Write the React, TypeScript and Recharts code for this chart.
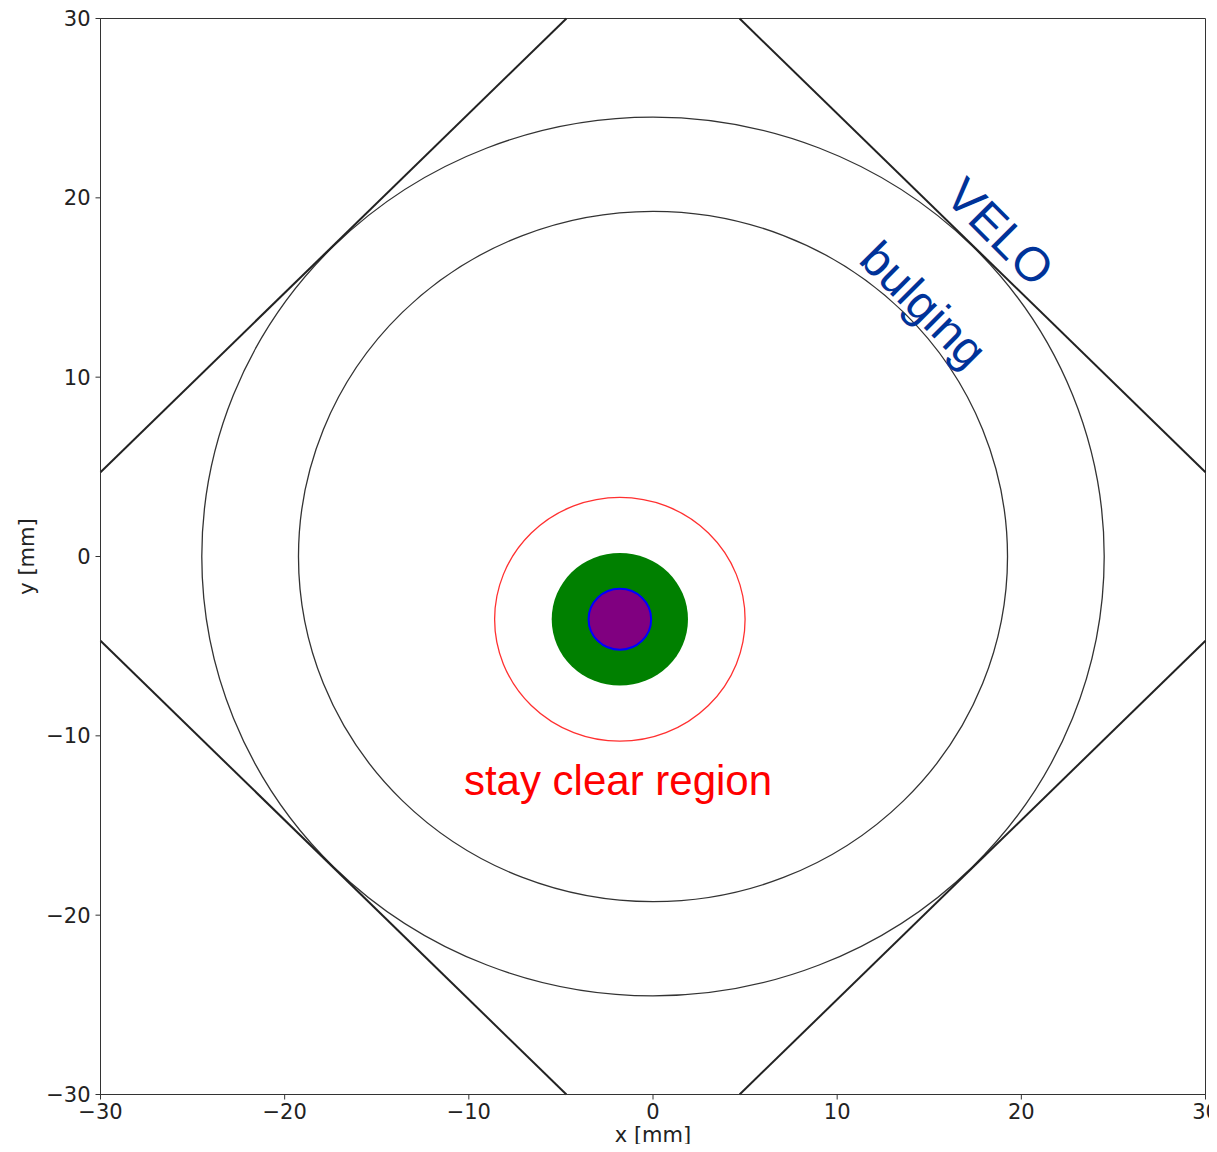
import React from "react";
import {
  ComposedChart,
  XAxis,
  YAxis,
  ReferenceArea,
  ReferenceLine,
  ReferenceDot,
} from "recharts";

// ---- data ----
const X_TICKS = [-30, -20, -10, 0, 10, 20, 30];
const Y_TICKS = [-30, -20, -10, 0, 10, 20, 30];
const X_DOMAIN: [number, number] = [-30, 30];
const Y_DOMAIN: [number, number] = [-30, 30];

// VELO boundary (diamond |x|+|y| = 34.7), clipped to the plot window
const DIAMOND_SEGMENTS = [
  [{ x: -30, y: 4.7 }, { x: -4.7, y: 30 }],
  [{ x: 4.7, y: 30 }, { x: 30, y: 4.7 }],
  [{ x: -30, y: -4.7 }, { x: -4.7, y: -30 }],
  [{ x: 4.7, y: -30 }, { x: 30, y: -4.7 }],
];

// circles: centre (cx, cy) and radius r in mm
const CIRCLE_NAMES = ["outer", "inner", "stayClear", "beam", "core"];
const CIRCLE_CX = [0, 0, -1.8, -1.8, -1.8];
const CIRCLE_CY = [0, 0, -3.5, -3.5, -3.5];
const CIRCLE_R = [24.5, 19.25, 6.8, 3.7, 1.7];

const ANNOT_TEXT = ["VELO", "bulging", "stay clear region"];
const ANNOT_X = [18.84, 14.7, -1.9];
const ANNOT_Y = [18.1, 14.05, -13.3];

// ---- styles ----
const CIRCLE_STYLE: Record<string, { stroke: string; fill: string; sw: number }> = {
  outer: { stroke: "#333333", fill: "none", sw: 1.3 },
  inner: { stroke: "#333333", fill: "none", sw: 1.3 },
  stayClear: { stroke: "#ff3030", fill: "none", sw: 1.3 },
  beam: { stroke: "none", fill: "#008000", sw: 0 },
  core: { stroke: "#0000ff", fill: "#800080", sw: 2 },
};
const ANNOT_STYLE = [
  { angle: 45, color: "#003399", size: 48, baseline: "central" },
  { angle: 45, color: "#003399", size: 48, baseline: "central" },
  { angle: 0, color: "#ff0000", size: 42, baseline: "alphabetic" },
];

const fmt = (v: number) => (v < 0 ? "\u2212" + Math.abs(v) : String(v));
const FONT = "DejaVu Sans";

const XTick = (p: any) => (
  <text
    x={p.x}
    y={p.y}
    dy="0.76em"
    textAnchor="middle"
    fontFamily={FONT}
    fontSize={21}
    fill="#222"
  >
    {fmt(p.payload.value)}
  </text>
);
const YTick = (p: any) => (
  <text
    x={p.x}
    y={p.y}
    dy="0.36em"
    textAnchor="end"
    fontFamily={FONT}
    fontSize={21}
    fill="#222"
  >
    {fmt(p.payload.value)}
  </text>
);

export default function App() {
  return (
    <div style={{ width: 1201, height: 1136 }}>
      <style>{`html, body { overflow: hidden; } .recharts-surface { overflow: visible; } .recharts-wrapper { overflow: visible; }`}</style>
      <ComposedChart
        width={1201}
        height={1136}
        margin={{ top: 10.5, right: 3.5, bottom: 0, left: 0.5 }}
      >
        <XAxis
          type="number"
          dataKey="x"
          domain={X_DOMAIN}
          ticks={X_TICKS}
          allowDataOverflow
          interval={0}
          tick={XTick}
          tickSize={5}
          tickMargin={4}
          stroke="#333"
          height={49.5}
          label={{
            value: "x [mm]",
            position: "insideBottom",
            offset: 2,
            style: { fontFamily: FONT, fontSize: 21, fill: "#222" },
          }}
        />
        <YAxis
          type="number"
          dataKey="y"
          domain={Y_DOMAIN}
          ticks={Y_TICKS}
          allowDataOverflow
          interval={0}
          tick={YTick}
          tickSize={5}
          tickMargin={5}
          stroke="#333"
          width={92}
          label={{
            value: "y [mm]",
            angle: -90,
            position: "insideLeft",
            offset: 18,
            style: { fontFamily: FONT, fontSize: 21, fill: "#222", textAnchor: "middle" },
          }}
        />
        {/* frame (top/right spines) */}
        <ReferenceArea
          x1={X_DOMAIN[0]}
          x2={X_DOMAIN[1]}
          y1={Y_DOMAIN[0]}
          y2={Y_DOMAIN[1]}
          fill="none"
          fillOpacity={0}
          stroke="#333"
          strokeWidth={1}
        />
        {CIRCLE_NAMES.map((name, i) => {
          const st = CIRCLE_STYLE[name];
          return (
            <ReferenceArea
              key={name}
              x1={CIRCLE_CX[i] - CIRCLE_R[i]}
              x2={CIRCLE_CX[i] + CIRCLE_R[i]}
              y1={CIRCLE_CY[i] - CIRCLE_R[i]}
              y2={CIRCLE_CY[i] + CIRCLE_R[i]}
              ifOverflow="visible"
              shape={(p: any) => {
                const w = Math.abs(p.width);
                const h = Math.abs(p.height);
                const x0 = Math.min(p.x, p.x + p.width);
                const y0 = Math.min(p.y, p.y + p.height);
                return (
                  <ellipse
                    cx={x0 + w / 2}
                    cy={y0 + h / 2}
                    rx={w / 2}
                    ry={h / 2}
                    fill={st.fill}
                    stroke={st.stroke}
                    strokeWidth={st.sw}
                  />
                );
              }}
            />
          );
        })}
        {DIAMOND_SEGMENTS.map((seg, i) => (
          <ReferenceLine
            key={"d" + i}
            segment={seg}
            stroke="#222"
            strokeWidth={2}
            ifOverflow="visible"
          />
        ))}
        {ANNOT_TEXT.map((t, i) => {
          const st = ANNOT_STYLE[i];
          return (
            <ReferenceDot
              key={"a" + i}
              x={ANNOT_X[i]}
              y={ANNOT_Y[i]}
              r={0}
              ifOverflow="visible"
              shape={(p: any) => (
                <text
                  x={p.cx}
                  y={p.cy}
                  textAnchor="middle"
                  dominantBaseline={st.baseline}
                  transform={`rotate(${st.angle}, ${p.cx}, ${p.cy})`}
                  fill={st.color}
                  fontFamily="Liberation Sans, Arial, sans-serif"
                  fontSize={st.size}
                >
                  {t}
                </text>
              )}
            />
          );
        })}
      </ComposedChart>
    </div>
  );
}
